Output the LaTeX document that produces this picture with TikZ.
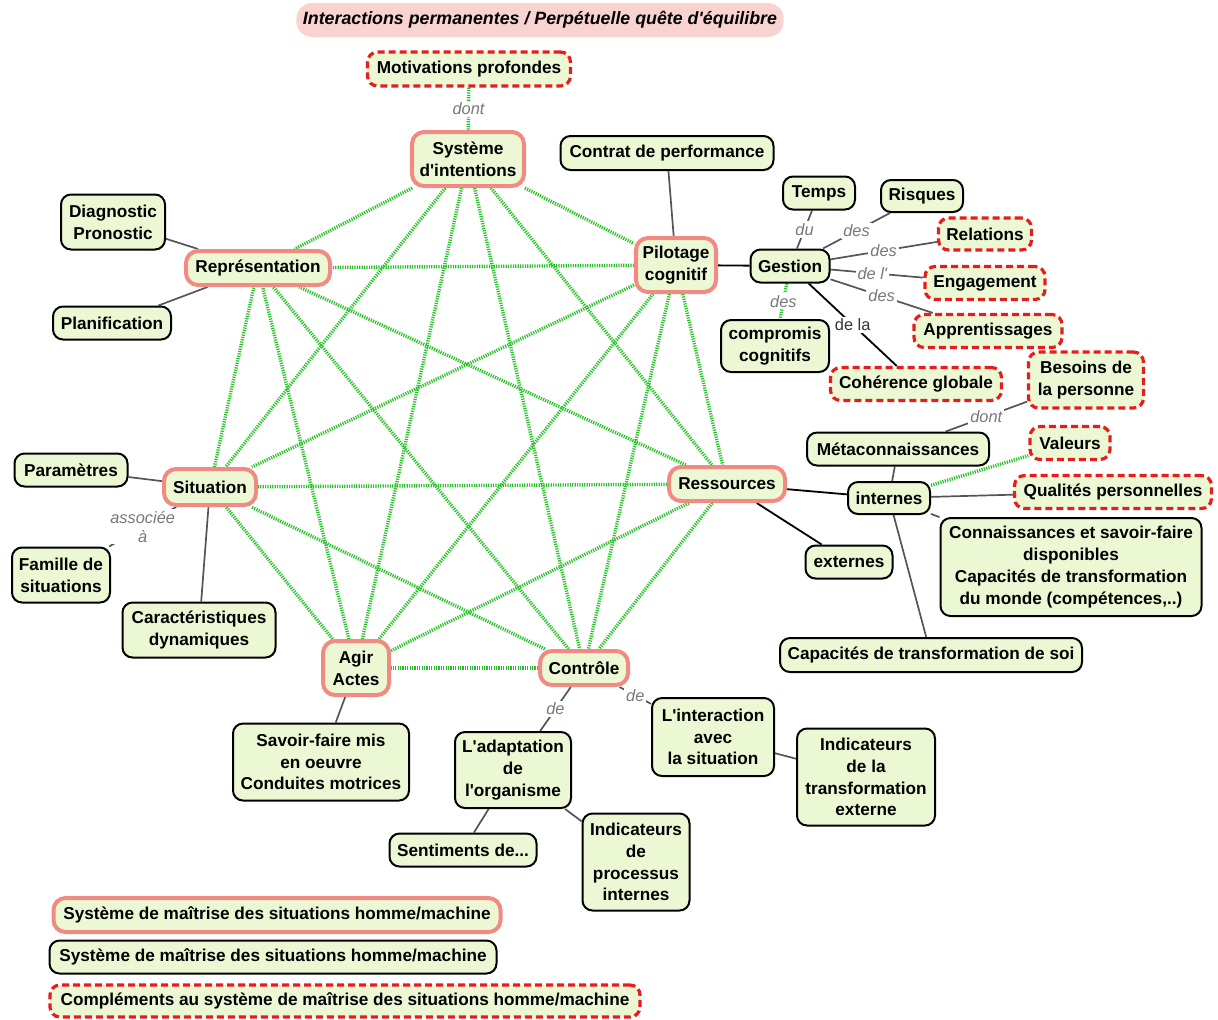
\documentclass[tikz,border=0pt]{standalone}
\usepackage{fontspec}
\setmainfont{Liberation Sans}
\usetikzlibrary{backgrounds}
\definecolor{boxfill}{RGB}{236,248,211}
\definecolor{pinkc}{RGB}{242,138,132}
\definecolor{redc}{RGB}{232,28,28}
\definecolor{greenc}{RGB}{40,195,40}
\definecolor{linegray}{RGB}{85,85,85}
\definecolor{lblgray}{RGB}{120,120,120}
\definecolor{titlepink}{RGB}{249,211,207}
\newcommand\ap{\textquotesingle}
\begin{document}
\begin{tikzpicture}[x=0.5pt,y=-0.5pt,
 box/.style={draw=black, line width=1pt, fill=boxfill, rounded corners=5pt, font=\bfseries\fontsize{8.6}{10.9}\selectfont, align=center, inner sep=1.2pt},
 mainbox/.style={box, draw=pinkc, line width=2pt, rounded corners=6pt},
 compbox/.style={box, draw=redc, line width=1.6pt, dash pattern=on 3.5pt off 2pt},
 gline/.style={line width=1.7pt, draw=greenc, dash pattern=on 0.6pt off 0.6pt},
 thin/.style={draw=linegray, line width=0.85pt},
 blk/.style={draw=black, line width=0.9pt},
 lbl/.style={font=\itshape\fontsize{8.2}{9.5}\selectfont, text=lblgray, fill=white, inner sep=1pt, align=center},
]
\useasboundingbox (0,0) rectangle (1218,1019);

% title
\node[fill=titlepink, rounded corners=8pt, minimum width=238pt, minimum height=17pt, font=\bfseries\itshape\fontsize{8.9}{10.8}\selectfont] (title) at (540,20) {Interactions permanentes / Perpétuelle quête d\ap équilibre};

% main nodes
\node[mainbox, minimum width=56pt, minimum height=27pt] (sys) at (468,159) {Système\\d\ap intentions};
\node[mainbox, minimum width=40pt, minimum height=27pt] (pil) at (676,265) {Pilotage\\cognitif};
\node[mainbox, minimum width=58pt, minimum height=17pt] (res) at (727,484) {Ressources};
\node[mainbox, minimum width=44pt, minimum height=17pt] (con) at (584,668) {Contrôle};
\node[mainbox, minimum width=33pt, minimum height=27pt] (agir) at (356,668) {Agir\\Actes};
\node[mainbox, minimum width=46pt, minimum height=18pt] (sit) at (210,487) {Situation};
\node[mainbox, minimum width=72pt, minimum height=17pt] (rep) at (258,268) {Représentation};

% complements
\node[compbox, minimum width=101.5pt, minimum height=17pt] (mot) at (469,69) {Motivations profondes};
\node[compbox, minimum width=46.5pt, minimum height=16pt] (rel) at (985,234) {Relations};
\node[compbox, minimum width=60pt, minimum height=16.5pt] (eng) at (985,283) {Engagement};
\node[compbox, minimum width=74pt, minimum height=16.5pt] (app) at (988,331) {Apprentissages};
\node[compbox, minimum width=85.5pt, minimum height=16.5pt] (coh) at (916,384) {Cohérence globale};
\node[compbox, minimum width=57.5pt, minimum height=28pt] (bes) at (1086,380) {Besoins de\\la personne};
\node[compbox, minimum width=40pt, minimum height=16.5pt] (val) at (1070,443) {Valeurs};
\node[compbox, minimum width=98.5pt, minimum height=16.5pt] (qual) at (1113,492) {Qualités personnelles};

% ordinary nodes
\node[box, minimum width=106.5pt, minimum height=17pt] (contrat) at (667,153) {Contrat de performance};
\node[box, minimum width=39.5pt, minimum height=16.5pt] (gest) at (790,266) {Gestion};
\node[box, minimum width=36pt, minimum height=16.5pt] (temps) at (819,193) {Temps};
\node[box, minimum width=41pt, minimum height=16pt] (risq) at (922,196) {Risques};
\node[box, minimum width=54pt, minimum height=26pt] (comp) at (775,346) {compromis\\cognitifs};
\node[box, minimum width=91pt, minimum height=16.5pt] (meta) at (898,449) {Métaconnaissances};
\node[box, minimum width=41pt, minimum height=16pt] (int) at (889,498) {internes};
\node[box, minimum width=130.5pt, minimum height=49pt] (conn) at (1071,567) {Connaissances et savoir-faire\\disponibles\\Capacités de transformation\\du monde (compétences,..)};
\node[box, minimum width=43.5pt, minimum height=16.5pt] (ext) at (849,562) {externes};
\node[box, minimum width=151pt, minimum height=17pt] (capsoi) at (931,655) {Capacités de transformation de soi};
\node[box, minimum width=61pt, minimum height=39pt] (inter) at (713,737) {L\ap interaction\\avec\\la situation};
\node[box, minimum width=69pt, minimum height=48.5pt] (indtr) at (866,777) {Indicateurs\\de la\\transformation\\externe};
\node[box, minimum width=58pt, minimum height=38pt] (adapt) at (513,770) {L\ap adaptation\\de\\l\ap organisme};
\node[box, minimum width=73.5pt, minimum height=16.5pt] (sent) at (463,850) {Sentiments de...};
\node[box, minimum width=53.5pt, minimum height=48.5pt] (indpr) at (636,862) {Indicateurs\\de\\processus\\internes};
\node[box, minimum width=88pt, minimum height=38.5pt] (savoir) at (321,762) {Savoir-faire mis\\en oeuvre\\Conduites motrices};
\node[box, minimum width=56.5pt, minimum height=16.5pt] (param) at (71,470) {Paramètres};
\node[box, minimum width=49pt, minimum height=27.5pt] (fam) at (61,575) {Famille de\\situations};
\node[box, minimum width=76.5pt, minimum height=27.5pt] (carac) at (199,630) {Caractéristiques\\dynamiques};
\node[box, minimum width=52pt, minimum height=27.5pt] (diag) at (113,222) {Diagnostic\\Pronostic};
\node[box, minimum width=59pt, minimum height=16.5pt] (plan) at (112,323) {Planification};

% legend
\node[mainbox, minimum width=223.5pt, minimum height=17pt] (leg1) at (277,915) {Système de maîtrise des situations homme/machine};
\node[box, minimum width=223.5pt, minimum height=16.5pt] (leg2) at (273,957) {Système de maîtrise des situations homme/machine};
\node[compbox, minimum width=295pt, minimum height=16pt] (leg3) at (345,1001) {Compléments au système de maîtrise des situations homme/machine};

\begin{pgfonlayer}{background}
% complete graph between the seven main nodes
\foreach \a/\b in {sys/pil,sys/res,sys/con,sys/agir,sys/sit,sys/rep,
  pil/res,pil/con,pil/agir,pil/sit,pil/rep,
  res/con,res/agir,res/sit,res/rep,
  con/agir,con/sit,con/rep,
  agir/sit,agir/rep,sit/rep}
  \draw[gline] (\a) -- (\b);

\draw[gline] (mot) -- node[lbl] {dont} (sys);
\draw[thin] (contrat) -- (pil);
\draw[blk] (pil) -- (gest);
\draw[thin] (gest) -- node[lbl] {du} (temps);
\draw[thin] (gest) -- node[lbl] {des} (risq);
\draw[thin] (gest) -- node[lbl] {des} (rel);
\draw[thin] (gest) -- node[lbl,pos=0.45] {de l\ap} (eng);
\draw[thin] (gest) -- node[lbl] {des} (app);
\draw[gline] (gest) -- node[lbl] {des} (comp);
\draw[blk] (gest) -- node[lbl, font=\fontsize{8.2}{9.5}\selectfont, text=black!80] {de la} (coh);
\draw[blk] (res) -- (int);
\draw[blk] (res) -- (ext);
\draw[thin] (int) -- (meta);
\draw[thin] (meta) -- node[lbl,pos=0.5] {dont} (bes);
\draw[gline] (int) -- (val);
\draw[thin] (int) -- (qual);
\draw[thin] (int) -- (conn);
\draw[thin] (int) -- (capsoi);
\draw[thin] (rep) -- (diag);
\draw[thin] (rep) -- (plan);
\draw[thin] (sit) -- (param);
\draw[thin] (sit) -- node[lbl] {associée\\à} (fam);
\draw[thin] (sit) -- (carac);
\draw[thin] (agir) -- (savoir);
\draw[thin] (con) -- node[lbl] {de} (adapt);
\draw[thin] (con) -- node[lbl] {de} (inter);
\draw[thin] (adapt) -- (sent);
\draw[thin] (adapt) -- (indpr);
\draw[thin] (inter) -- (indtr);
\end{pgfonlayer}
\end{tikzpicture}
\end{document}
